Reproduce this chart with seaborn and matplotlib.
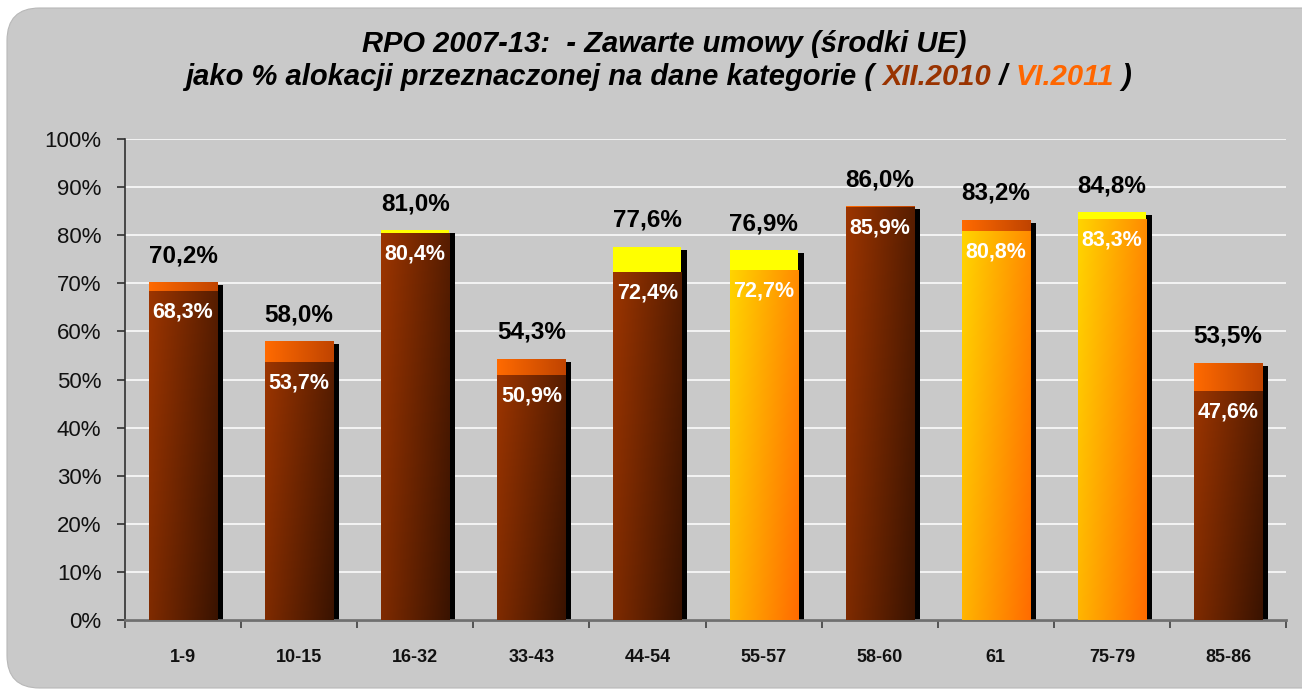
import numpy as np
import pandas as pd
import matplotlib
matplotlib.use("Agg")
import matplotlib.pyplot as plt
import seaborn as sns
from matplotlib.colors import LinearSegmentedColormap
from matplotlib.patches import FancyBboxPatch
from matplotlib.transforms import ScaledTranslation

# ================= DATA =================
kategorie = ["1-9", "10-15", "16-32", "33-43", "44-54",
             "55-57", "58-60", "61", "75-79", "85-86"]
xii_2010 = [68.3, 53.7, 80.4, 50.9, 72.4, 72.7, 85.9, 80.8, 83.3, 47.6]
vi_2011 = [70.2, 58.0, 81.0, 54.3, 77.6, 76.9, 86.0, 83.2, 84.8, 53.5]
# front bar style (XII.2010) and style of the growth part (VI.2011)
styl_przod = ["braz", "braz", "braz", "braz", "braz",
              "zolty", "braz", "zolty", "zolty", "braz"]
styl_przyrost = ["pomar", "pomar", "zolty", "pomar", "zolty",
                 "zolty", "pomar", "pomar", "zolty", "pomar"]

df = pd.DataFrame({"kat": kategorie, "xii": xii_2010, "vi": vi_2011})

# ================= STYLE =================
BG = "#c9c9c9"
sns.set_style("white", {"axes.facecolor": BG})
plt.rcParams["font.family"] = ["Liberation Sans", "DejaVu Sans"]

fig = plt.figure(figsize=(13.02, 6.91), dpi=100, facecolor="white")
tlo = FancyBboxPatch((7 / 1302, 3 / 691), 1.05, 680 / 691,
                     boxstyle="round,pad=0,rounding_size=0.025",
                     transform=fig.transFigure, facecolor=BG,
                     edgecolor="#b8b8b8", linewidth=0.8,
                     mutation_aspect=1302 / 691, zorder=-5)
fig.patches.append(tlo)
ax = fig.add_axes([125 / 1302, 71 / 691, 1161 / 1302, 481 / 691])
ax.set_zorder(2)
ax.set_facecolor(BG)

W = 0.586

# shadow
sns.barplot(data=df, x="kat", y="vi", color="black", width=W,
            linewidth=0, errorbar=None, ax=ax, zorder=1)
shift = ScaledTranslation(6 / 100, -3 / 100, fig.dpi_scale_trans)
for p in ax.containers[-1]:
    p.set_transform(ax.transData + shift)
    p.set_facecolor("black")

# back bars (VI.2011)
sns.barplot(data=df, x="kat", y="vi", color="#ff6600", width=W,
            linewidth=0, errorbar=None, ax=ax, zorder=2)
back = list(ax.containers[-1])

# front bars (XII.2010)
sns.barplot(data=df, x="kat", y="xii", color="#993300", width=W,
            linewidth=0, errorbar=None, ax=ax, zorder=3)
front = list(ax.containers[-1])

GRAD = {
    "braz": ("#9c3500", "#3a1300", 0.3),
    "zolty": ("#ffd400", "#ff6c00", 0.3),
    "pomar": ("#ff6a00", "#c04400", 0.0),
}


def gradient_fill(patch, style, z, is_back):
    if style == "zolty" and is_back:
        patch.set_facecolor("#ffff00")
        return
    c0, c1, wv = GRAD[style]
    patch.set_facecolor(c0)
    x0, y0 = patch.get_x(), patch.get_y()
    w, h = patch.get_width(), patch.get_height()
    xx, yy = np.meshgrid(np.linspace(0, 1, 60), np.linspace(0, 1, 60))
    t = (1 - wv) * xx + wv * yy
    cmap = LinearSegmentedColormap.from_list("g", [c0, c1])
    im = ax.imshow(t, cmap=cmap, vmin=0, vmax=1, origin="upper",
                   extent=(x0, x0 + w, y0, y0 + h), aspect="auto",
                   interpolation="bilinear", zorder=z)
    im.set_clip_path(patch)


for p, s in zip(back, styl_przyrost):
    gradient_fill(p, s, 2.1, True)
for p, s in zip(front, styl_przod):
    gradient_fill(p, s, 3.1, False)

# ================= LABELS =================
for i, (a, b) in enumerate(zip(xii_2010, vi_2011)):
    ax.annotate(f"{b:.1f}%".replace(".", ","), (i, b), xytext=(0, 19),
                textcoords="offset points", ha="center", va="center",
                fontsize=17.5, fontweight="bold", color="black", zorder=6)
    ax.annotate(f"{a:.1f}%".replace(".", ","), (i, a), xytext=(0, -15),
                textcoords="offset points", ha="center", va="center",
                fontsize=15.5, fontweight="bold", color="white", zorder=6)

# ================= AXES =================
ax.set_xlim(-0.5, 9.5)
ax.set_ylim(0, 100)
ax.set_yticks(np.arange(0, 101, 10))
ax.set_yticklabels([f"{v}%" for v in range(0, 101, 10)], fontsize=16, color="#111111")
ax.set_xticks(range(len(kategorie)))
ax.set_xticklabels(kategorie, fontsize=13, fontweight="bold", color="#111111")
ax.set_xticks(np.arange(-0.5, 10, 1), minor=True)
ax.tick_params(axis="x", which="major", length=0, pad=21)
ax.tick_params(axis="x", which="minor", length=6, width=1.2, color="#404040",
               direction="out", bottom=True)
ax.tick_params(axis="y", length=6, width=1.2, color="#303030", pad=11,
               direction="out", left=True)
ax.set_xlabel("")
ax.set_ylabel("")
ax.grid(axis="y", color="white", linewidth=1.1)
ax.set_axisbelow(True)
for s in ["top", "right"]:
    ax.spines[s].set_visible(False)
ax.spines["left"].set_color("#303030")
ax.spines["left"].set_linewidth(1.2)
ax.spines["bottom"].set_color("#707070")
ax.spines["bottom"].set_linewidth(2)

# ================= TITLE =================
tfont = dict(fontsize=21, fontweight="bold", fontstyle="italic")
fig.text(0.51, 1 - 44 / 691, "RPO 2007-13:  - Zawarte umowy (środki UE)",
         ha="center", va="center", color="black", **tfont)

czesci = [("jako % alokacji przeznaczonej na dane kategorie ( ", "black"),
          ("XII.2010", "#993300"), (" / ", "black"),
          ("VI.2011", "#ff6600"), (" )", "black")]
renderer = fig.canvas.get_renderer()
teksty = []
x = 0.0
for txt, col in czesci:
    t = fig.text(x, 1 - 77 / 691, txt, ha="left", va="center", color=col, **tfont)
    bb = t.get_window_extent(renderer)
    teksty.append(t)
    x += bb.width / fig.bbox.width
start = 0.506 - x / 2
for t in teksty:
    px, py = t.get_position()
    t.set_position((px + start, py))

fig.savefig("out.png", dpi=100, facecolor=fig.get_facecolor())
